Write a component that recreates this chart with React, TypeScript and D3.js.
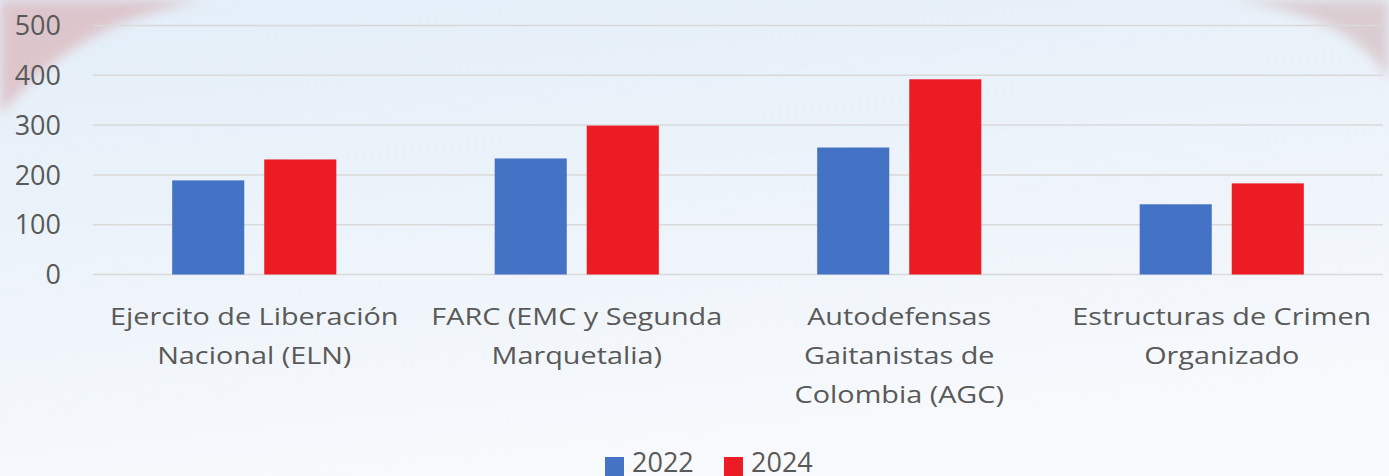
import React from 'react';
import * as d3 from 'd3';

// grupos armados (etiquetas en varias líneas)
const categories = [
  ['Ejercito de Liberación', 'Nacional (ELN)'],
  ['FARC (EMC y Segunda', 'Marquetalia)'],
  ['Autodefensas', 'Gaitanistas de', 'Colombia (AGC)'],
  ['Estructuras de Crimen', 'Organizado'],
];
const years = ['2022', '2024'];
const values2022 = [189, 233, 255, 141];
const values2024 = [231, 299, 392, 183];
const yTicks = [0, 100, 200, 300, 400, 500];

const colors = ['#4472C4', '#ED1C24'];

const W = 1389;
const H = 476;
const margin = { top: 25.5, right: 6, bottom: 201.5, left: 93 };
const FONT = '"Open Sans", "Liberation Sans", Arial, sans-serif';

export default function App() {
  const innerH = H - margin.top - margin.bottom;

  const x = d3.scaleBand<number>()
    .domain(categories.map((_, i) => i))
    .range([margin.left, W - margin.right])
    .paddingInner(0)
    .paddingOuter(0);

  // two bars per group, narrow gap between them
  const x1 = d3.scaleBand<string>()
    .domain(years)
    .range([0, x.bandwidth()])
    .paddingInner(0.217)
    .paddingOuter(0.86);

  const y = d3.scaleLinear().domain([0, 500]).range([margin.top + innerH, margin.top]);

  const series = [values2022, values2024];

  return (
    <svg width={W} height={H} style={{ position: 'absolute', left: 0, top: 0, display: 'block' }}>
      <defs>
        <linearGradient id="bg" x1="0" y1="0" x2="0.3" y2="1">
          <stop offset="0" stopColor="#e3eef8" />
          <stop offset="0.6" stopColor="#eef4fa" />
          <stop offset="1" stopColor="#f7f9fc" />
        </linearGradient>
        <filter id="soft" x="-20%" y="-20%" width="140%" height="140%">
          <feGaussianBlur stdDeviation="6" />
        </filter>
      </defs>
      <rect x={0} y={0} width={W} height={H} fill="url(#bg)" />
      {/* decorative corners of the background picture */}
      <path d="M0,0 L205,0 C120,15 60,45 0,115 Z" fill="#dbbcc1" opacity={0.8} filter="url(#soft)" />
      <path d="M1225,0 L1389,0 L1389,80 C1360,30 1300,8 1225,0 Z" fill="#d7c4c8" opacity={0.8} filter="url(#soft)" />

      {/* gridlines */}
      {yTicks.map(t => (
        <line key={t} x1={margin.left} x2={W - margin.right} y1={y(t)} y2={y(t)}
          stroke="#d9d9d9" strokeWidth={1.5} />
      ))}
      {/* y labels */}
      {yTicks.map(t => (
        <text key={'l' + t} x={61} y={y(t)} dy="0.36em" textAnchor="end"
          fontFamily={FONT} fontSize={27} fill="#595959">{t}</text>
      ))}

      {/* bars */}
      {categories.map((_, i) => (
        <g key={i} transform={`translate(${x(i)},0)`}>
          {years.map((yr, j) => (
            <rect key={yr} x={x1(yr)} y={y(series[j][i])} width={x1.bandwidth()}
              height={y(0) - y(series[j][i])} fill={colors[j]} />
          ))}
        </g>
      ))}

      {/* category labels (slightly widened like the original font) */}
      {categories.map((lines, i) => {
        const cx = (x(i) as number) + x.bandwidth() / 2;
        return (
          <text key={'c' + i} transform={`translate(${cx},325) scale(1.2,1)`}
            textAnchor="middle" fontFamily={FONT} fontSize={24} fill="#595959">
            {lines.map((ln, k) => (
              <tspan key={k} x={0} dy={k === 0 ? 0 : 39}>{ln}</tspan>
            ))}
          </text>
        );
      })}

      {/* legend */}
      {years.map((yr, j) => (
        <g key={'lg' + yr} transform={`translate(${605 + j * 119},0)`}>
          <rect x={0} y={457} width={19} height={19} fill={colors[j]} />
          <text x={27} y={472} fontFamily={FONT} fontSize={27} fill="#595959">{yr}</text>
        </g>
      ))}
    </svg>
  );
}
